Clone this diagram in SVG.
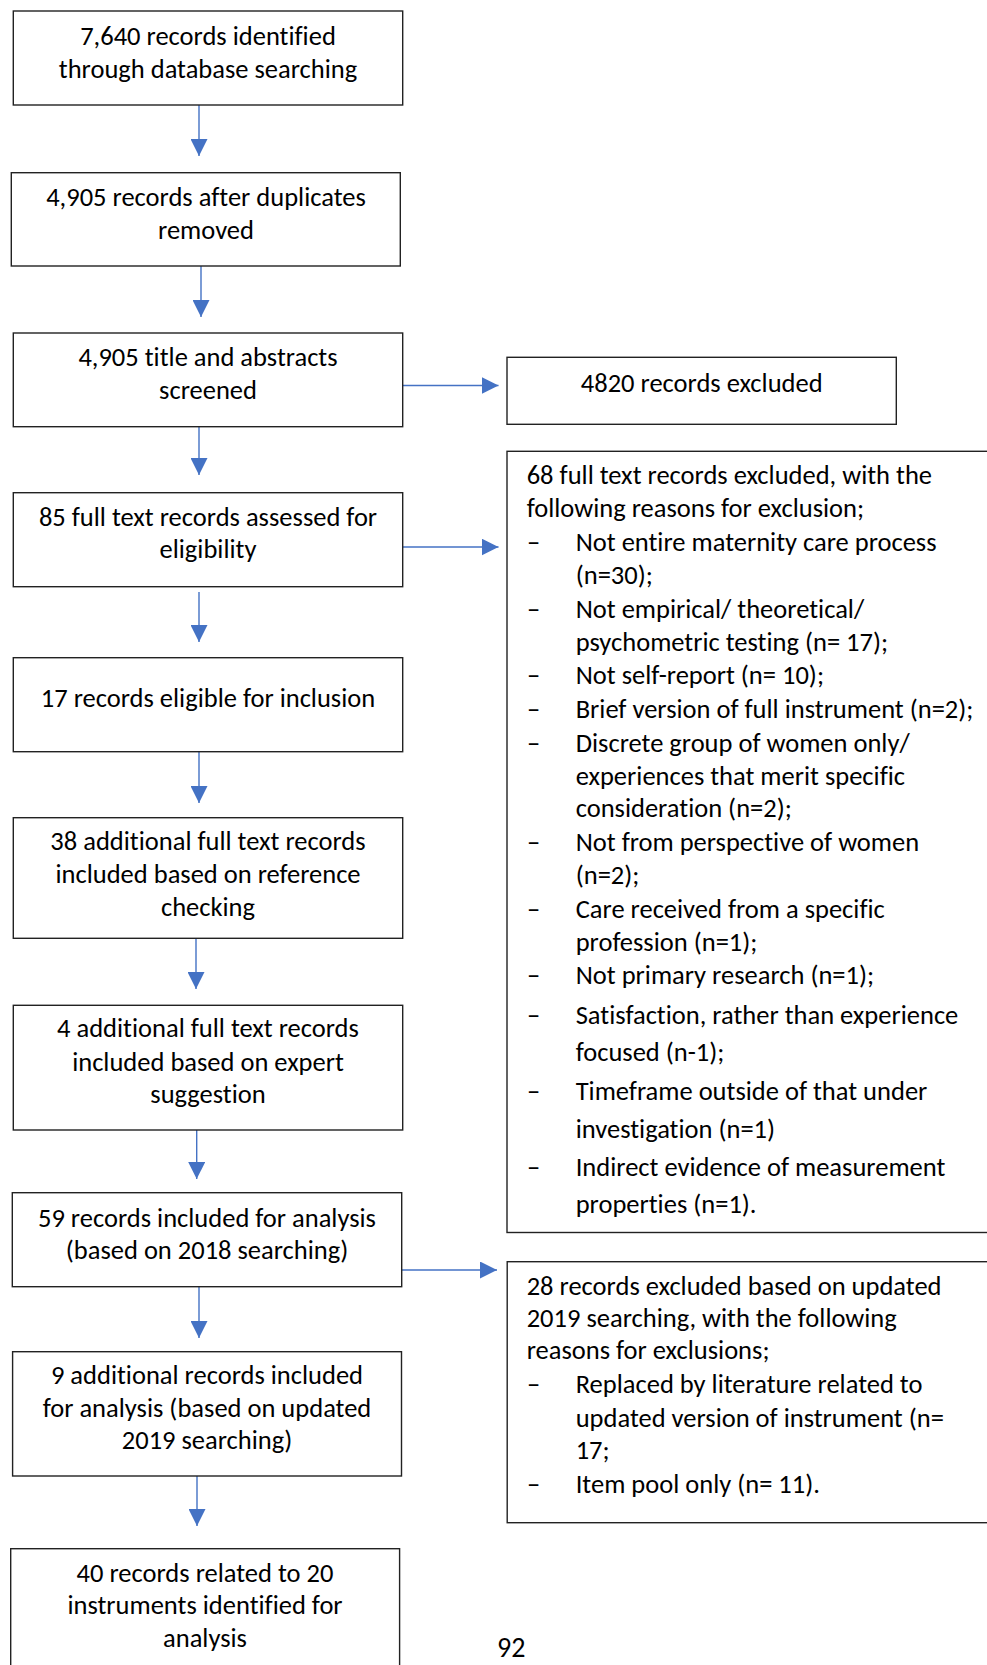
<svg xmlns="http://www.w3.org/2000/svg" width="987" height="1665" viewBox="0 0 987 1665">
<defs>
<marker id="ah" markerUnits="userSpaceOnUse" markerWidth="17" markerHeight="17" viewBox="0 0 16 16" refX="16" refY="8" orient="auto">
<path d="M0,0 L16,8 L0,16 Z" fill="#4472C4"/>
</marker>
<style>
.box{fill:#fff;stroke:#222;stroke-width:1.4}
.t{font-family:Carlito,Lato,"Liberation Sans",sans-serif;font-size:26.5px;fill:#000;font-variant-ligatures:none;font-feature-settings:"liga" 0,"dlig" 0}
.c{text-anchor:middle}
.ln{stroke:#4472C4;stroke-width:1.4;fill:none;marker-end:url(#ah)}
</style>
</defs>
<rect width="987" height="1665" fill="#fff"/>
<g id="connectors">
<line class="ln" x1="199" y1="105" x2="199" y2="156"/>
<line class="ln" x1="201" y1="266" x2="201" y2="317"/>
<line class="ln" x1="199" y1="427" x2="199" y2="475"/>
<line class="ln" x1="199" y1="592" x2="199" y2="642"/>
<line class="ln" x1="199" y1="752" x2="199" y2="803"/>
<line class="ln" x1="196" y1="938" x2="196" y2="989"/>
<line class="ln" x1="196.7" y1="1130" x2="196.7" y2="1179"/>
<line class="ln" x1="199" y1="1287" x2="199" y2="1338"/>
<line class="ln" x1="197" y1="1476" x2="197" y2="1526"/>
<line class="ln" x1="403" y1="385.5" x2="498.5" y2="385.5"/>
<line class="ln" x1="403" y1="547" x2="498.5" y2="547"/>
<line class="ln" x1="402" y1="1270" x2="497" y2="1270"/>
</g>
<g id="n1">
<rect class="box" x="13.3" y="11" width="389.4" height="94"/>
<text class="t c" x="208" y="45">7,640 records identified</text>
<text class="t c" x="208" y="77.5">through database searching</text>
</g>
<g id="n2">
<rect class="box" x="11.3" y="172.7" width="389" height="93.3"/>
<text class="t c" x="206" y="205.5">4,905 records after duplicates</text>
<text class="t c" x="206" y="239">removed</text>
</g>
<g id="n3">
<rect class="box" x="13.3" y="333" width="389.4" height="93.7"/>
<text class="t c" x="208" y="366">4,905 title and abstracts</text>
<text class="t c" x="208" y="399">screened</text>
</g>
<g id="n4820">
<rect class="box" x="507" y="357.3" width="389.3" height="67"/>
<text class="t c" x="701.7" y="391.7">4820 records excluded</text>
</g>
<g id="nexcl68">
<rect class="box" x="507" y="451.3" width="500" height="781.2"/>
<text class="t" x="526.7" y="484">68 full text records excluded, with the</text>
<text class="t" x="526.7" y="516.7">following reasons for exclusion;</text>
<text class="t" x="527" y="551">–</text><text class="t" x="575.7" y="551">Not entire maternity care process</text>
<text class="t" x="575.7" y="584.3">(n=30);</text>
<text class="t" x="527" y="617.7">–</text><text class="t" x="575.7" y="617.7">Not empirical/ theoretical/</text>
<text class="t" x="575.7" y="651">psychometric testing (n= 17);</text>
<text class="t" x="527" y="684.3">–</text><text class="t" x="575.7" y="684.3">Not self-report (n= 10);</text>
<text class="t" x="527" y="717.7">–</text><text class="t" x="575.7" y="717.7">Brief version of full instrument (n=2);</text>
<text class="t" x="527" y="751.7">–</text><text class="t" x="575.7" y="751.7">Discrete group of women only/</text>
<text class="t" x="575.7" y="784.5">experiences that merit specific</text>
<text class="t" x="575.7" y="816.7">consideration (n=2);</text>
<text class="t" x="527" y="851">–</text><text class="t" x="575.7" y="851">Not from perspective of women</text>
<text class="t" x="575.7" y="884.3">(n=2);</text>
<text class="t" x="527" y="917.7">–</text><text class="t" x="575.7" y="917.7">Care received from a specific</text>
<text class="t" x="575.7" y="951">profession (n=1);</text>
<text class="t" x="527" y="984.3">–</text><text class="t" x="575.7" y="984.3">Not primary research (n=1);</text>
<text class="t" x="527" y="1024.3">–</text><text class="t" x="575.7" y="1024.3">Satisfaction, rather than experience</text>
<text class="t" x="575.7" y="1061">focused (n-1);</text>
<text class="t" x="527" y="1100">–</text><text class="t" x="575.7" y="1100">Timeframe outside of that under</text>
<text class="t" x="575.7" y="1137.7">investigation (n=1)</text>
<text class="t" x="527" y="1176">–</text><text class="t" x="575.7" y="1176">Indirect evidence of measurement</text>
<text class="t" x="575.7" y="1213.3">properties (n=1).</text>
</g>
<g id="n85">
<rect class="box" x="13.3" y="492.7" width="389.4" height="94"/>
<text class="t c" x="208" y="526">85 full text records assessed for</text>
<text class="t c" x="208" y="558">eligibility</text>
</g>
<g id="n17">
<rect class="box" x="13.3" y="657.7" width="389.4" height="94"/>
<text class="t c" x="208" y="707">17 records eligible for inclusion</text>
</g>
<g id="n38">
<rect class="box" x="13.3" y="817.7" width="389.4" height="120.6"/>
<text class="t c" x="208" y="850">38 additional full text records</text>
<text class="t c" x="208" y="883">included based on reference</text>
<text class="t c" x="208" y="916">checking</text>
</g>
<g id="n4">
<rect class="box" x="13.3" y="1005.3" width="389.4" height="124.7"/>
<text class="t c" x="208" y="1037.3">4 additional full text records</text>
<text class="t c" x="208" y="1070.5">included based on expert</text>
<text class="t c" x="208" y="1102.5">suggestion</text>
</g>
<g id="n59">
<rect class="box" x="12.3" y="1192.7" width="389.4" height="94"/>
<text class="t c" x="207" y="1226.7">59 records included for analysis</text>
<text class="t c" x="207" y="1259.3">(based on 2018 searching)</text>
</g>
<g id="nexcl28">
<rect class="box" x="507.2" y="1261.7" width="500" height="261"/>
<text class="t" x="526.7" y="1295">28 records excluded based on updated</text>
<text class="t" x="526.7" y="1326.7">2019 searching, with the following</text>
<text class="t" x="526.7" y="1359.3">reasons for exclusions;</text>
<text class="t" x="527" y="1393.3">–</text><text class="t" x="575.7" y="1393.3">Replaced by literature related to</text>
<text class="t" x="575.7" y="1426.7">updated version of instrument (n=</text>
<text class="t" x="575.7" y="1459.3">17;</text>
<text class="t" x="527" y="1493.3">–</text><text class="t" x="575.7" y="1493.3">Item pool only (n= 11).</text>
</g>
<g id="n9">
<rect class="box" x="12.6" y="1351.7" width="388.9" height="124.3"/>
<text class="t c" x="207" y="1384">9 additional records included</text>
<text class="t c" x="207" y="1416.7">for analysis (based on updated</text>
<text class="t c" x="207" y="1449.3">2019 searching)</text>
</g>
<g id="n40">
<rect class="box" x="10.7" y="1548.7" width="388.9" height="140"/>
<text class="t c" x="205" y="1581.7">40 records related to 20</text>
<text class="t c" x="205" y="1614">instruments identified for</text>
<text class="t c" x="205" y="1646.7">analysis</text>
</g>
<text class="t" x="497" y="1657" style="font-size:28px">92</text>
</svg>
